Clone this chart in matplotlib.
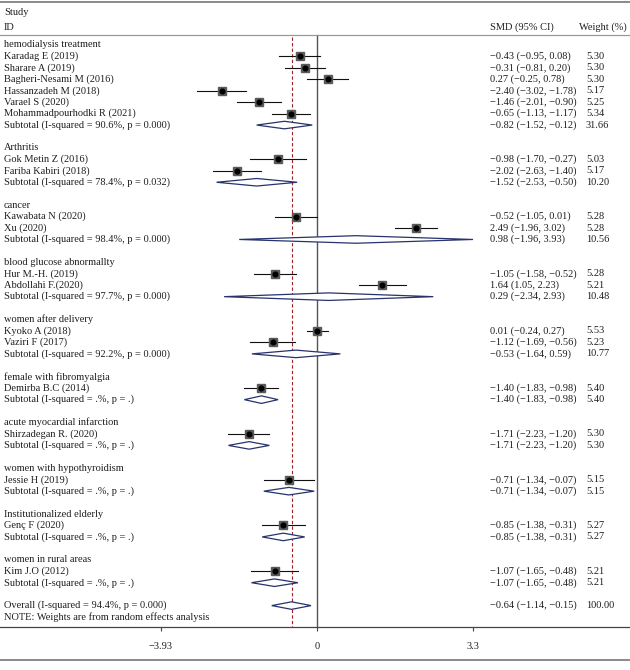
import matplotlib
matplotlib.use('agg')
import matplotlib.pyplot as plt
import numpy as np

# subgroup headings
groups = ["hemodialysis treatment", "Arthritis", "cancer", "blood glucose abnormallty",
          "women after delivery", "female with fibromyalgia", "acute myocardial infarction",
          "women with hypothyroidism", "Institutionalized elderly", "women in rural areas"]

# individual studies
study_names = ["Karadag E (2019)", "Sharare A (2019)", "Bagheri-Nesami M (2016)",
               "Hassanzadeh M (2018)", "Varael S (2020)", "Mohammadpourhodki R (2021)",
               "Gok Metin Z (2016)", "Fariba Kabiri (2018)",
               "Kawabata N (2020)", "Xu (2020)",
               "Hur M.-H. (2019)", "Abdollahi F.(2020)",
               "Kyoko A (2018)", "Vaziri F (2017)",
               "Demirba B.C (2014)", "Shirzadegan R. (2020)", "Jessie H (2019)",
               "Genç F (2020)", "Kim J.O (2012)"]
study_group = [0, 0, 0, 0, 0, 0, 1, 1, 2, 2, 3, 3, 4, 4, 5, 6, 7, 8, 9]
study_es = [-0.43, -0.31, 0.27, -2.40, -1.46, -0.65, -0.98, -2.02, -0.52, 2.49,
            -1.05, 1.64, 0.01, -1.12, -1.40, -1.71, -0.71, -0.85, -1.07]
# drawn CI ends (as plotted)
study_lo = [-0.95, -0.81, -0.25, -3.02, -2.01, -1.13, -1.70, -2.63, -1.05, 1.96,
            -1.58, 1.05, -0.24, -1.69, -1.83, -2.23, -1.34, -1.38, -1.65]
study_hi = [0.08, 0.20, 0.78, -1.78, -0.90, -0.17, -0.27, -1.40, 0.01, 3.02,
            -0.52, 2.23, 0.27, -0.56, -0.98, -1.20, -0.07, -0.31, -0.48]
# printed CI text (as in the table)
study_ci = ["−0.43 (−0.95, 0.08)", "−0.31 (−0.81, 0.20)", "0.27 (−0.25, 0.78)",
            "−2.40 (−3.02, −1.78)", "−1.46 (−2.01, −0.90)", "−0.65 (−1.13, −1.17)",
            "−0.98 (−1.70, −0.27)", "−2.02 (−2.63, −1.40)",
            "−0.52 (−1.05, 0.01)", "2.49 (−1.96, 3.02)",
            "−1.05 (−1.58, −0.52)", "1.64 (1.05, 2.23)",
            "0.01 (−0.24, 0.27)", "−1.12 (−1.69, −0.56)",
            "−1.40 (−1.83, −0.98)", "−1.71 (−2.23, −1.20)", "−0.71 (−1.34, −0.07)",
            "−0.85 (−1.38, −0.31)", "−1.07 (−1.65, −0.48)"]
study_w = [5.30, 5.30, 5.30, 5.17, 5.25, 5.34, 5.03, 5.17, 5.28, 5.28,
           5.28, 5.21, 5.53, 5.23, 5.40, 5.30, 5.15, 5.27, 5.21]

# subtotals
sub_i2 = ["90.6%, p = 0.000", "78.4%, p = 0.032", "98.4%, p = 0.000", "97.7%, p = 0.000",
          "92.2%, p = 0.000", ".%, p = .", ".%, p = .", ".%, p = .", ".%, p = .", ".%, p = ."]
sub_es = [-0.82, -1.52, 0.98, 0.29, -0.53, -1.40, -1.71, -0.71, -0.85, -1.07]
sub_lo = [-1.52, -2.53, -1.96, -2.34, -1.64, -1.83, -2.23, -1.34, -1.38, -1.65]
sub_hi = [-0.12, -0.50, 3.93, 2.93, 0.59, -0.98, -1.20, -0.07, -0.31, -0.48]
sub_w = [31.66, 10.20, 10.56, 10.48, 10.77, 5.40, 5.30, 5.15, 5.27, 5.21]

overall_es, overall_lo, overall_hi = -0.64, -1.14, -0.15
overall_label = "Overall (I-squared = 94.4%, p = 0.000)"
note = "NOTE: Weights are from random effects analysis"

tick_pos = [-3.93, 0, 3.93]
tick_lab = ["−3.93", "0", "3.3"]

plt.rcParams['font.family'] = ['Liberation Serif', 'DejaVu Serif']
fs = 7.5
tc = '#1e1e1e'
dcol = '#27336b'


def fmt(v):
    return ("%.2f" % v).replace('-', '−')


fig = plt.figure(figsize=(6.3, 6.7), dpi=100)
ax = fig.add_axes([0, 0, 1, 1])
ax.set_xlim(-317 / 39.7, 313 / 39.7)
ax.set_ylim(54.63, -3.93)
trans = ax.get_yaxis_transform()  # x in axes fraction, y in data
xl, xs, xw = 4 / 630, 490 / 630, 586 / 630


def diamond(y, es, lo, hi):
    h = 0.33
    ax.fill([lo, es, hi, es, lo], [y, y - h, y, y + h, y], facecolor='white',
            edgecolor=dcol, lw=0.9, zorder=3)


row = 0
for g, gname in enumerate(groups):
    ax.text(xl, row, gname, transform=trans, fontsize=fs, color=tc, va='center')
    row += 1
    for i in [k for k, sg in enumerate(study_group) if sg == g]:
        ax.plot([study_lo[i], study_hi[i]], [row, row], color='#111111', lw=0.8, zorder=2)
        ax.plot(study_es[i], row, 's', ms=6.0 * np.sqrt(study_w[i] / 5.3),
                mfc='#5a5a5a', mec='#5a5a5a', zorder=3)
        ax.plot(study_es[i], row, 'o', ms=3.4, color='black', zorder=4)
        ax.text(xl, row, study_names[i], transform=trans, fontsize=fs, color=tc, va='center')
        ax.text(xs, row, study_ci[i], transform=trans, fontsize=fs, color=tc, va='center')
        ax.text(xw, row, "%.2f" % study_w[i], transform=trans, fontsize=fs, color=tc, va='center')
        row += 1
    diamond(row, sub_es[g], sub_lo[g], sub_hi[g])
    ax.text(xl, row, "Subtotal (I-squared = " + sub_i2[g] + ")", transform=trans,
            fontsize=fs, color=tc, va='center')
    ax.text(xs, row, "%s (%s, %s)" % (fmt(sub_es[g]), fmt(sub_lo[g]), fmt(sub_hi[g])),
            transform=trans, fontsize=fs, color=tc, va='center')
    ax.text(xw, row, "%.2f" % sub_w[g], transform=trans, fontsize=fs, color=tc, va='center')
    row += 2

diamond(row, overall_es, overall_lo, overall_hi)
ax.text(xl, row, overall_label, transform=trans, fontsize=fs, color=tc, va='center')
ax.text(xs, row, "%s (%s, %s)" % (fmt(overall_es), fmt(overall_lo), fmt(overall_hi)),
        transform=trans, fontsize=fs, color=tc, va='center')
ax.text(xw, row, "%.2f" % sum(sub_w), transform=trans, fontsize=fs, color=tc, va='center')
ax.text(xl, row + 1, note, transform=trans, fontsize=fs, color=tc, va='center')

y_head, y_axis = -0.87, 50.87
# header
ax.text(xl, -2.8, "Study", transform=trans, fontsize=fs, color=tc, va='center')
ax.text(xl, -1.57, "ID", transform=trans, fontsize=fs, color=tc, va='center')
ax.text(xs, -1.57, "SMD (95% CI)", transform=trans, fontsize=fs, color=tc, va='center')
ax.text(579 / 630, -1.57, "Weight (%)", transform=trans, fontsize=fs, color=tc, va='center')

ax.axhline(-3.76, color='#777777', lw=1.2)
ax.axhline(y_head, color='#999999', lw=0.9)
ax.axhline(53.76, color='#777777', lw=1.2)

# reference lines
ax.plot([0, 0], [y_head, y_axis], color='#555555', lw=1.0, zorder=1)
ax.plot([overall_es, overall_es], [-0.7, y_axis], color='#a0202a', lw=0.8,
        dashes=(3, 2), zorder=1)

# x axis
for s in ['top', 'left', 'right']:
    ax.spines[s].set_visible(False)
ax.spines['bottom'].set_position(('data', y_axis))
ax.spines['bottom'].set_color('#444444')
ax.spines['bottom'].set_linewidth(0.9)
ax.set_yticks([])
ax.set_xticks(tick_pos)
ax.set_xticklabels(tick_lab)
ax.tick_params(axis='x', direction='out', length=3, width=0.8, color='#444444',
               labelsize=fs, labelcolor=tc, pad=8)

fig.savefig('out.png', dpi=100)
